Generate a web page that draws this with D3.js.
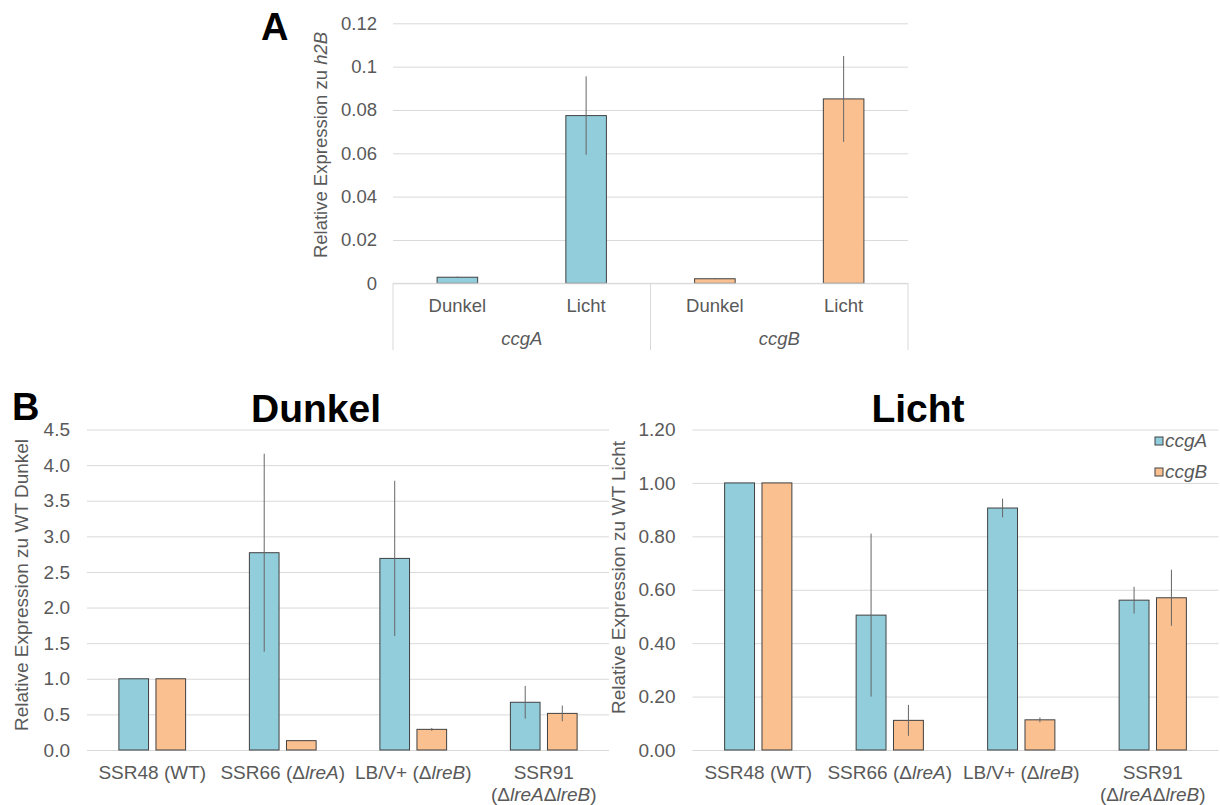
<!DOCTYPE html>
<meta charset="utf-8">
<style>
body { margin: 0; background: #fff; }
svg { font-family: "Liberation Sans", Arial, sans-serif; }
.grid line { stroke: #d9d9d9; }
.grid text { fill: #595959; }
.lbl { fill: #595959; }
</style>
<svg width="1220" height="805"></svg>
<script src="https://d3js.org/d3.v7.min.js"></script>
<script>

// panel A data
var aSubcats = ["Dunkel", "Licht", "Dunkel", "Licht"];
var aGenes = ["ccgA", "ccgA", "ccgB", "ccgB"];
var aGroups = ["ccgA", "ccgB"];
var aValues = [0.0028, 0.0774, 0.0021, 0.0851];
var aErrors = [0.0003, 0.0181, 0.0002, 0.0198];
var aTicks = [0, 0.02, 0.04, 0.06, 0.08, 0.1, 0.12];

// panel B data
var genes = ["ccgA", "ccgB"];
var strains = ["SSR48", "SSR66", "LBV", "SSR91"];
// each label: lines of [text, italic]
var strainLabels = [
  [[["SSR48 (WT)", 0]]],
  [[["SSR66 (\u0394", 0], ["lreA", 1], [")", 0]]],
  [[["LB/V+ (\u0394", 0], ["lreB", 1], [")", 0]]],
  [[["SSR91", 0]], [["(\u0394", 0], ["lreA", 1], ["\u0394", 0], ["lreB", 1], [")", 0]]]
];
var darkA = [1.0, 2.77, 2.69, 0.67];
var darkAErr = [0, 1.39, 1.09, 0.23];
var darkB = [1.0, 0.131, 0.29, 0.514];
var darkBErr = [0, 0.005, 0.02, 0.11];
var darkTicks = [0, 0.5, 1, 1.5, 2, 2.5, 3, 3.5, 4, 4.5];

var lightA = [1.0, 0.505, 0.906, 0.561];
var lightAErr = [0, 0.305, 0.035, 0.05];
var lightB = [1.0, 0.111, 0.113, 0.57];
var lightBErr = [0, 0.058, 0.009, 0.105];
var lightTicks = [0, 0.2, 0.4, 0.6, 0.8, 1.0, 1.2];

var color = { ccgA: "#92cddc", ccgB: "#fac090" };

var svg = d3.select("svg");

// ---------- panel A ----------
var xA = d3.scaleBand().domain(d3.range(4)).range([393, 908])
    .paddingInner(0.685).paddingOuter(0.3425);
var yA = d3.scaleLinear().domain([0, 0.12]).range([283.3, 23.3]);

svg.append("g")
    .attr("class", "grid")
    .attr("transform", "translate(393,0)")
    .call(d3.axisLeft(yA).tickValues(aTicks).tickSize(-(908 - 393)).tickPadding(16)
      .tickFormat(function(d) { return d === 0 ? "0" : String(+d.toFixed(2)); }))
    .attr("font-size", 18.5).attr("font-family", null)
    .call(function(g) { g.select(".domain").remove(); });

svg.append("g").selectAll("rect")
    .data(aValues)
  .enter().append("rect")
    .attr("x", function(d, i) { return xA(i); })
    .attr("y", function(d) { return yA(d); })
    .attr("width", xA.bandwidth())
    .attr("height", function(d) { return yA(0) - yA(d); })
    .style("fill", function(d, i) { return color[aGenes[i]]; })
    .style("stroke", "#404040").style("stroke-width", 1);

svg.append("g").selectAll("line")
    .data(aValues)
  .enter().append("line")
    .attr("x1", function(d, i) { return xA(i) + xA.bandwidth() / 2; })
    .attr("x2", function(d, i) { return xA(i) + xA.bandwidth() / 2; })
    .attr("y1", function(d, i) { return yA(d + aErrors[i]); })
    .attr("y2", function(d, i) { return yA(d - aErrors[i]); })
    .style("stroke", "#666").style("stroke-width", 1);

// category axis (two levels)
var sepA = [393, (xA(1) + xA.bandwidth() + xA(2)) / 2, 908];
svg.append("line").attr("x1", 393).attr("x2", 908).attr("y1", yA(0)).attr("y2", yA(0))
    .style("stroke", "#d9d9d9");
svg.append("g").selectAll("line")
    .data(sepA)
  .enter().append("line")
    .attr("x1", function(d) { return d; }).attr("x2", function(d) { return d; })
    .attr("y1", yA(0)).attr("y2", 350)
    .style("stroke", "#d9d9d9");

svg.append("g").selectAll("text")
    .data(aSubcats)
  .enter().append("text")
    .attr("class", "lbl")
    .attr("x", function(d, i) { return xA(i) + xA.bandwidth() / 2; })
    .attr("y", 311.5)
    .attr("text-anchor", "middle")
    .attr("font-size", 18.5)
    .text(function(d) { return d; });

svg.append("g").selectAll("text")
    .data(aGroups)
  .enter().append("text")
    .attr("class", "lbl")
    .attr("x", function(d, i) { return (sepA[i] + sepA[i + 1]) / 2; })
    .attr("y", 345)
    .attr("text-anchor", "middle")
    .attr("font-size", 18.5)
    .attr("font-style", "italic")
    .text(function(d) { return d; });

var tA = svg.append("text")
    .attr("class", "lbl")
    .attr("transform", "translate(326.5,145) rotate(-90)")
    .attr("text-anchor", "middle")
    .attr("font-size", 18.5);
tA.append("tspan").text("Relative Expression zu ");
tA.append("tspan").attr("font-style", "italic").text("h2B");

svg.append("text").attr("x", 261).attr("y", 40)
    .attr("font-size", 38).attr("font-weight", "bold").text("A");

// ---------- panel B ----------
function drawPanel(p) {
  var x0 = d3.scaleBand().domain(strains).range(p.range);
  var x1 = d3.scaleBand().domain(genes).range([0, x0.bandwidth()])
      .paddingInner(0.2).paddingOuter(0.86);
  var y = d3.scaleLinear().domain([0, p.max]).range([750, 429.5]);

  svg.append("g")
      .attr("class", "grid")
      .attr("transform", "translate(" + p.range[0] + ",0)")
      .call(d3.axisLeft(y).tickValues(p.ticks).tickSize(-(p.range[1] - p.range[0]))
        .tickPadding(17).tickFormat(d3.format(p.fmt)))
      .attr("font-size", 19).attr("font-family", null)
      .call(function(g) { g.select(".domain").remove(); });

  var rows = [];
  strains.forEach(function(s, i) {
    rows.push({ strain: s, gene: "ccgA", v: p.a[i], e: p.aErr[i] });
    rows.push({ strain: s, gene: "ccgB", v: p.b[i], e: p.bErr[i] });
  });

  svg.append("g").selectAll("rect")
      .data(rows)
    .enter().append("rect")
      .attr("x", function(d) { return x0(d.strain) + x1(d.gene); })
      .attr("y", function(d) { return y(d.v); })
      .attr("width", x1.bandwidth())
      .attr("height", function(d) { return y(0) - y(d.v); })
      .style("fill", function(d) { return color[d.gene]; })
      .style("stroke", "#404040").style("stroke-width", 1);

  svg.append("g").selectAll("line")
      .data(rows.filter(function(d) { return d.e > 0; }))
    .enter().append("line")
      .attr("x1", function(d) { return x0(d.strain) + x1(d.gene) + x1.bandwidth() / 2; })
      .attr("x2", function(d) { return x0(d.strain) + x1(d.gene) + x1.bandwidth() / 2; })
      .attr("y1", function(d) { return y(d.v + d.e); })
      .attr("y2", function(d) { return y(d.v - d.e); })
      .style("stroke", "#666").style("stroke-width", 1);

  var lab = svg.append("g").selectAll("text")
      .data(strainLabels)
    .enter().append("text")
      .attr("class", "lbl")
      .attr("text-anchor", "middle")
      .attr("font-size", 19)
      .attr("y", 779);
  lab.each(function(lines, i) {
    var t = d3.select(this);
    var cx = x0(strains[i]) + x0.bandwidth() / 2;
    lines.forEach(function(line, li) {
      line.forEach(function(seg, si) {
        var ts = t.append("tspan").text(seg[0]);
        if (si === 0) ts.attr("x", cx).attr("y", 779 + li * 22);
        if (seg[1]) ts.attr("font-style", "italic");
      });
    });
  });

  svg.append("text")
      .attr("x", p.titleX).attr("y", 421.5)
      .attr("text-anchor", "middle")
      .attr("font-size", 39).attr("font-weight", "bold")
      .text(p.title);

  svg.append("text")
      .attr("class", "lbl")
      .attr("transform", "translate(" + p.yTitleX + "," + p.yTitleY + ") rotate(-90)")
      .attr("text-anchor", "middle")
      .attr("font-size", 19)
      .text(p.yTitle);
}

drawPanel({
  range: [87, 609], max: 4.5, ticks: darkTicks, fmt: ".1f",
  a: darkA, aErr: darkAErr, b: darkB, bErr: darkBErr,
  title: "Dunkel", titleX: 316,
  yTitle: "Relative Expression zu WT Dunkel", yTitleX: 28, yTitleY: 585
});

drawPanel({
  range: [692.5, 1218.5], max: 1.2, ticks: lightTicks, fmt: ".2f",
  a: lightA, aErr: lightAErr, b: lightB, bErr: lightBErr,
  title: "Licht", titleX: 918,
  yTitle: "Relative Expression zu WT Licht", yTitleX: 625, yTitleY: 577.5
});

svg.append("text").attr("x", 12).attr("y", 420)
    .attr("font-size", 38).attr("font-weight", "bold").text("B");

// legend
var leg = svg.append("g").selectAll("g")
    .data(genes)
  .enter().append("g")
    .attr("transform", function(d, i) { return "translate(1155," + (437 + i * 31) + ")"; });
leg.append("rect").attr("width", 8).attr("height", 8)
    .style("fill", function(d) { return color[d]; })
    .style("stroke", "#404040");
leg.append("text").attr("class", "lbl")
    .attr("x", 10).attr("y", 10)
    .attr("font-size", 19).attr("font-style", "italic")
    .text(function(d) { return d; });

</script>
